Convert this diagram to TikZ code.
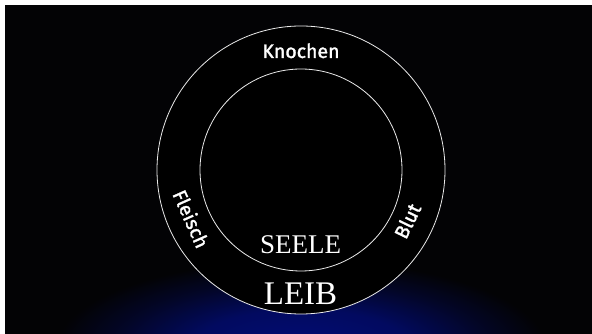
\documentclass[tikz,border=0pt]{standalone}
\usepackage{fontspec}
\usetikzlibrary{calc}
\setmainfont{Liberation Serif}
\newfontfamily\labfont[FakeBold=1.6]{Fira Sans}
\definecolor{glowc}{RGB}{2,12,118}
\definecolor{bgc}{RGB}{3,3,5}
\pgfdeclareradialshading{glow}{\pgfpoint{0bp}{0bp}}{color(0bp)=(glowc); color(11bp)=(glowc!80!bgc); color(19bp)=(glowc!30!bgc); color(25bp)=(bgc); color(50bp)=(bgc)}
\tikzset{
  ring/.style={draw=white!92!black, line width=0.8pt},
  sanslab/.style={text=white, font=\labfont\fontsize{19.5}{21}\selectfont, inner sep=0pt},
  seriflab/.style={text=white, inner sep=0pt, anchor=base},
}
\begin{document}
\begin{tikzpicture}[x=1pt,y=1pt]
\useasboundingbox (0,0) rectangle (592,334);
\fill[white] (0,0) rectangle (592,334);
\fill[bgc] (5,0) rectangle (592,329);
\begin{scope}
\clip (5,0) rectangle (592,329);
\shade[shading=glow] (301,-14) ellipse (245 and 88);
\end{scope}
\coordinate (c) at (301,164);
\fill[black] (c) circle (144);
\draw[ring] (c) circle (144);
\draw[ring] (c) circle (101);
\node[sanslab, anchor=base] (knochen) at (301,276) {Knochen};
\node[sanslab, rotate=-66] (fleisch) at ($(c)+(204:120)$) {Fleisch};
\node[sanslab, rotate=64] (blut) at ($(c)+(-25.6:118)$) {Blut};
\node[seriflab, font=\fontsize{27}{30}\selectfont] (seele) at (300.5,80) {SEELE};
\node[seriflab, font=\fontsize{33}{36}\selectfont] (leib) at (300.5,29) {LEIB};
\end{tikzpicture}
\end{document}
